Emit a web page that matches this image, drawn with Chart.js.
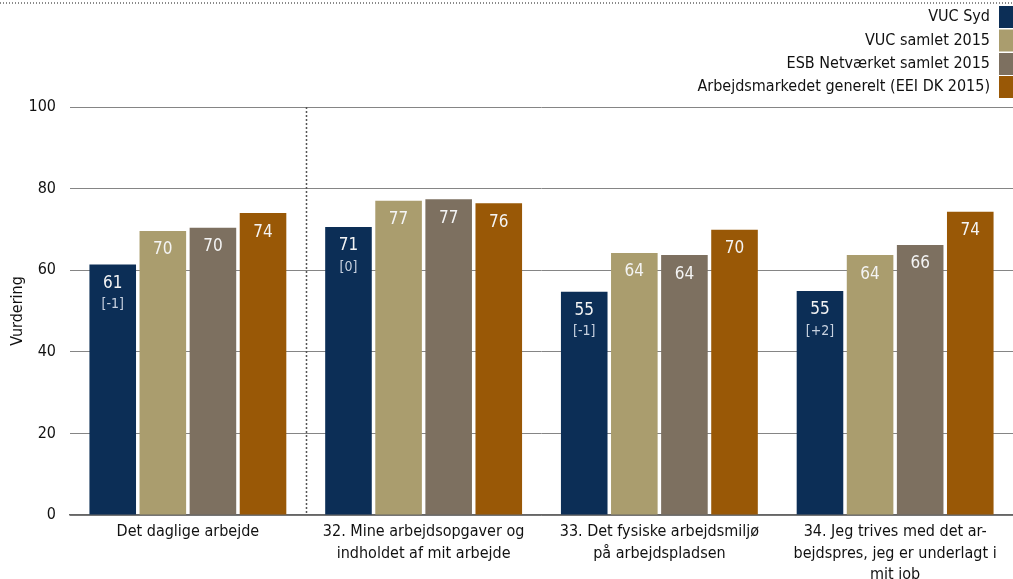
<!DOCTYPE html>
<html>
<head>
<meta charset="utf-8">
<script src="https://cdn.jsdelivr.net/npm/chart.js@4/dist/chart.umd.min.js"></script>
<style>
  html, body { margin: 0; padding: 0; background: #fff; }
  #wrap { width: 1013px; height: 579px; position: relative; }
</style>
</head>
<body>
<div id="wrap"><canvas id="c"></canvas></div>
<script>
const categories = [
  "Det daglige arbejde",
  ["32. Mine arbejdsopgaver og", "indholdet af mit arbejde"],
  ["33. Det fysiske arbejdsmiljø", "på arbejdspladsen"],
  ["34. Jeg trives med det ar-", "bejdspres, jeg er underlagt i", "mit job"]
];
const seriesNames = ["VUC Syd", "VUC samlet 2015", "ESB Netværket samlet 2015", "Arbejdsmarkedet generelt (EEI DK 2015)"];
const vucSyd = [61.4, 70.6, 54.7, 54.9];
const vucSamlet = [69.6, 77.0, 64.2, 63.7];
const esbNet = [70.4, 77.4, 63.7, 66.2];
const arbMarked = [74.0, 76.4, 69.9, 74.3];
const vucSydChange = ["[-1]", "[0]", "[-1]", "[+2]"];
const yTicks = [0, 20, 40, 60, 80, 100];

const colors = ["#0c2e56", "#aa9d6e", "#7d7060", "#995806"];
const FONT = "'DejaVu Sans Condensed', 'DejaVu Sans', sans-serif";

const decor = {
  id: 'decor',
  beforeDraw(chart) {
    const ctx = chart.ctx;
    ctx.save();
    ctx.strokeStyle = '#8a8a8a';
    ctx.lineWidth = 2;
    ctx.setLineDash([1, 2]);
    ctx.beginPath();
    ctx.moveTo(0, 3);
    ctx.lineTo(chart.width, 3);
    ctx.stroke();
    ctx.restore();
  },
  afterDatasetsDraw(chart) {
    const ctx = chart.ctx;
    const xs = chart.scales.x, ys = chart.scales.y;
    const sx = Math.round((xs.getPixelForValue(0) + xs.getPixelForValue(1)) / 2) + 0.5;
    ctx.save();
    ctx.strokeStyle = '#555';
    ctx.lineWidth = 1.5;
    ctx.setLineDash([2, 2]);
    ctx.beginPath();
    ctx.moveTo(sx, ys.getPixelForValue(100));
    ctx.lineTo(sx, ys.getPixelForValue(0));
    ctx.stroke();
    ctx.restore();
    ctx.save();
    ctx.textAlign = 'center';
    ctx.textBaseline = 'middle';
    chart.data.datasets.forEach((ds, di) => {
      const meta = chart.getDatasetMeta(di);
      meta.data.forEach((bar, i) => {
        const v = ds.data[i];
        ctx.fillStyle = '#f4f4f4';
        ctx.font = "17px " + FONT;
        ctx.fillText(String(Math.round(v)), bar.x, bar.y + 19);
        if (di === 0) {
          ctx.fillStyle = '#c9d2e0';
          ctx.font = "14px " + FONT;
          ctx.fillText(vucSydChange[i], bar.x, bar.y + 40);
        }
      });
    });
    ctx.restore();
    ctx.save();
    ctx.textAlign = 'right';
    ctx.textBaseline = 'middle';
    ctx.font = "16px " + FONT;
    const ys0 = [17, 40.5, 64, 87];
    chart.data.datasets.forEach((ds, di) => {
      const cy = ys0[di];
      ctx.fillStyle = ds.backgroundColor;
      ctx.fillRect(999, cy - 11, 14, 22);
      ctx.fillStyle = '#111';
      ctx.fillText(ds.label, 990, cy);
    });
    ctx.restore();
  }
};

const datasets = [vucSyd, vucSamlet, esbNet, arbMarked].map((d, i) => ({
  label: seriesNames[i],
  data: d,
  backgroundColor: colors[i],
  borderWidth: 0,
  categoryPercentage: 0.85,
  barPercentage: 0.93
}));

new Chart(document.getElementById('c'), {
  type: 'bar',
  data: { labels: categories, datasets },
  plugins: [decor],
  options: {
    responsive: true,
    maintainAspectRatio: false,
    animation: false,
    layout: { padding: { top: 107, right: 0, left: 0, bottom: 0 } },
    plugins: { legend: { display: false }, tooltip: { enabled: false } },
    scales: {
      x: {
        grid: { display: false, drawTicks: false },
        border: { display: true, color: '#666', width: 1.5 },
        ticks: {
          color: '#111', font: { family: FONT, size: 16, lineHeight: 1.35 },
          padding: 6, maxRotation: 0, autoSkip: false
        },
        afterFit(scale) { scale.height = 64; }
      },
      y: {
        min: 0, max: 100,
        afterBuildTicks(scale) { scale.ticks = yTicks.map(v => ({ value: v })); },
        grid: { color: '#858585', lineWidth: 1, drawTicks: false },
        border: { display: false },
        ticks: { color: '#111', font: { family: FONT, size: 16 }, padding: 14 },
        title: {
          display: true, text: 'Vurdering', color: '#111',
          font: { family: FONT, size: 16 }, padding: { top: 8, bottom: 0 }
        },
        afterFit(scale) { scale.width = 70; }
      }
    }
  }
});
</script>
</body>
</html>
